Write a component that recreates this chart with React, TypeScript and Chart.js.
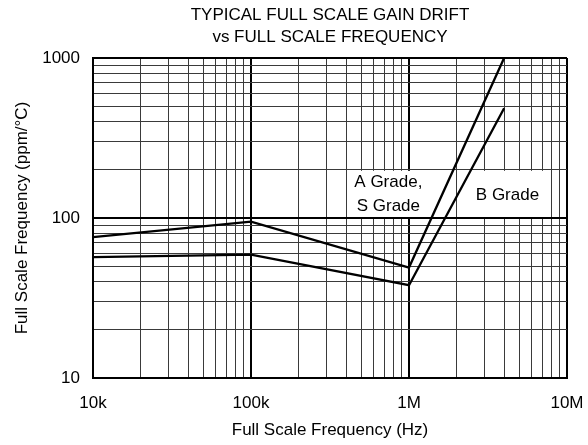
import React, { useEffect, useRef } from 'react';
import { Chart, registerables } from 'chart.js';

Chart.register(...registerables);

// ---- data ----
const frequencies = [1e4, 1e5, 1e6, 4e6];
const gradeA = [76, 95, 49, 1000];
const gradeB = [57, 59, 38, 485];

const xTickValues = [1e4, 1e5, 1e6, 1e7];
const xTickLabels = ['10k', '100k', '1M', '10M'];
const yTickValues = [10, 100, 1000];
const yTickLabels = ['10', '100', '1000'];

const titleLines = ['TYPICAL FULL SCALE GAIN DRIFT', 'vs FULL SCALE FREQUENCY'];
const xAxisTitle = 'Full Scale Frequency (Hz)';
const yAxisTitle = 'Full Scale Frequency (ppm/°C)';

// annotation boxes (data coords) and their labels
const labelBoxes = [
  { x0: 4.5e5, x1: 2e6, y0: 100, y1: 200 },
  { x0: 2e6, x1: 8e6, y0: 100, y1: 200 },
];
const labelTexts = [
  { x: 7.4e5, y: 140, lines: ['A Grade,', 'S Grade'] },
  { x: 4.2e6, y: 139, lines: ['B Grade'] },
];

const FONT = "'Liberation Sans', Arial, sans-serif";
const FS = 17;

function decadeGrid(min: number, max: number): number[] {
  const out: number[] = [];
  for (let d = min; d < max; d *= 10) {
    for (let k = 1; k <= 9; k++) out.push(d * k);
  }
  out.push(max);
  return out;
}

function isMajor(v: number): boolean {
  const l = Math.log10(v);
  return Math.abs(l - Math.round(l)) < 1e-6;
}

function labelFor(values: number[], labels: string[], v: number): string {
  for (let i = 0; i < values.length; i++) {
    if (Math.abs(values[i] - v) / values[i] < 1e-6) return labels[i];
  }
  return '';
}

const gradeLabelPlugin = {
  id: 'gradeLabels',
  beforeDatasetsDraw(chart: any) {
    const { ctx, scales } = chart;
    const x = scales.x;
    const y = scales.y;
    ctx.save();
    ctx.fillStyle = '#ffffff';
    for (const b of labelBoxes) {
      const l = x.getPixelForValue(b.x0);
      const r = x.getPixelForValue(b.x1);
      const t = y.getPixelForValue(b.y1);
      const bt = y.getPixelForValue(b.y0);
      ctx.fillRect(l + 1, t + 1, r - l - 2, bt - t - 2);
    }
    ctx.fillStyle = '#000';
    ctx.font = `${FS}px ${FONT}`;
    ctx.textAlign = 'center';
    ctx.textBaseline = 'middle';
    const lh = 24;
    for (const t of labelTexts) {
      const cx = x.getPixelForValue(t.x);
      const cy = y.getPixelForValue(t.y);
      const n = t.lines.length;
      t.lines.forEach((s, i) => {
        ctx.fillText(s, cx, cy + (i - (n - 1) / 2) * lh);
      });
    }
    ctx.restore();
  },
};

export default function App() {
  const ref = useRef<HTMLCanvasElement | null>(null);

  useEffect(() => {
    if (!ref.current) return;
    const gridColor = (c: any) => (c.tick && isMajor(c.tick.value) ? '#000' : '#3a3a3a');
    const gridWidth = (c: any) => (c.tick && isMajor(c.tick.value) ? 2 : 1);

    const chart = new Chart(ref.current, {
      type: 'line',
      data: {
        datasets: [
          {
            label: 'A Grade, S Grade',
            data: frequencies.map((f, i) => ({ x: f, y: gradeA[i] })),
            borderColor: '#000',
            borderWidth: 2.3,
            pointRadius: 0,
            tension: 0,
            clip: 2,
          },
          {
            label: 'B Grade',
            data: frequencies.map((f, i) => ({ x: f, y: gradeB[i] })),
            borderColor: '#000',
            borderWidth: 2.3,
            pointRadius: 0,
            tension: 0,
            clip: 2,
          },
        ],
      },
      options: {
        responsive: false,
        animation: false,
        color: '#000',
        layout: { padding: { left: 0, right: 21, top: 0, bottom: 0 } },
        plugins: {
          legend: { display: false },
          tooltip: { enabled: false },
          title: {
            display: true,
            text: titleLines,
            fullSize: false,
            color: '#000',
            font: { family: FONT, size: FS, weight: 'normal', lineHeight: 22 / FS },
            padding: { top: 4, bottom: 10 },
          },
        },
        scales: {
          x: {
            type: 'logarithmic',
            min: 1e4,
            max: 1e7,
            afterBuildTicks: (s: any) => {
              s.ticks = decadeGrid(1e4, 1e7).map((v) => ({ value: v, major: isMajor(v) }));
            },
            afterFit: (s: any) => {
              s.height = 67;
              s.paddingLeft = 0;
              s.paddingRight = 0;
            },
            ticks: {
              autoSkip: false,
              maxRotation: 0,
              minRotation: 0,
              padding: 15,
              color: '#000',
              font: { family: FONT, size: FS },
              callback: (v: any) => labelFor(xTickValues, xTickLabels, Number(v)),
            },
            grid: { color: gridColor, lineWidth: gridWidth, drawTicks: false },
            border: { display: true, color: '#000', width: 2 },
            title: {
              display: true,
              text: xAxisTitle,
              color: '#000',
              font: { family: FONT, size: FS },
              padding: { top: 0, bottom: 4 },
            },
          },
          y: {
            type: 'logarithmic',
            min: 10,
            max: 1000,
            afterBuildTicks: (s: any) => {
              s.ticks = decadeGrid(10, 1000).map((v) => ({ value: v, major: isMajor(v) }));
            },
            afterFit: (s: any) => {
              s.width = 93;
              s.paddingTop = 0;
              s.paddingBottom = 0;
            },
            ticks: {
              autoSkip: false,
              padding: 13,
              color: '#000',
              font: { family: FONT, size: FS },
              callback: (v: any) => labelFor(yTickValues, yTickLabels, Number(v)),
            },
            grid: { color: gridColor, lineWidth: gridWidth, drawTicks: false },
            border: { display: true, color: '#000', width: 2 },
            title: {
              display: true,
              text: yAxisTitle,
              color: '#000',
              font: { family: FONT, size: FS },
              padding: { top: 12, bottom: 0 },
            },
          },
        },
      },
      plugins: [gradeLabelPlugin],
    } as any);
    return () => chart.destroy();
  }, []);

  return (
    <canvas
      ref={ref}
      width={588}
      height={445}
      style={{ position: 'fixed', left: 0, top: 0, display: 'block', background: '#fff' }}
    />
  );
}
